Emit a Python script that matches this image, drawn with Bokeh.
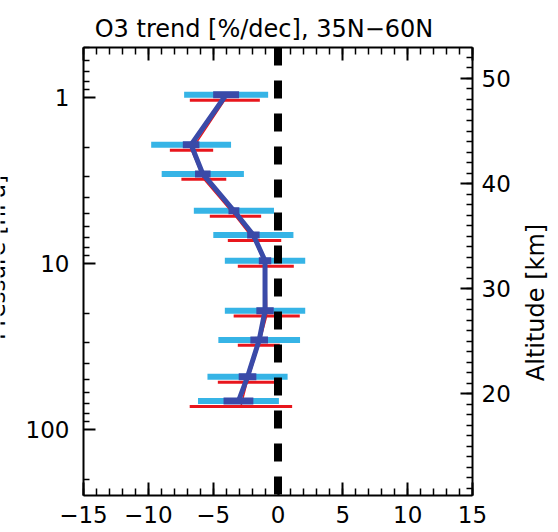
import math
from bokeh.plotting import figure
from bokeh.models import (Range1d, LinearAxis, FixedTicker, Label, LinearScale,
                          ColumnDataSource, BasicTickFormatter)
from bokeh.embed import file_html
from bokeh.resources import INLINE

# ---------------- data ----------------
pressure = [1, 2, 3, 5, 7, 10, 20, 30, 50, 70]          # hPa
blue_trend = [-4.0, -6.7, -5.8, -3.4, -1.9, -1.0, -1.0, -1.45, -2.35, -3.05]
blue_err = [3.24, 3.08, 3.17, 3.09, 3.09, 3.10, 3.10, 3.15, 3.09, 3.12]
blue_se = [1.00, 0.64, 0.60, 0.42, 0.48, 0.48, 0.67, 0.68, 0.68, 1.15]
red_trend = [-4.1, -6.67, -5.72, -3.28, -1.81, -0.94, -0.87, -1.48, -2.38, -2.86]
red_err = [2.70, 1.67, 1.73, 1.98, 2.06, 2.16, 2.55, 1.62, 2.26, 3.95]

x_ticks = [-15, -10, -5, 0, 5, 10, 15]
x_tick_labels = ["\u221215", "\u221210", "\u22125", "0", "5", "10", "15"]
p_ticks = [1, 10, 100]
p_minor = [0.5, 0.6, 0.7, 0.8, 0.9, 2, 3, 4, 5, 6, 7, 8, 9,
           20, 30, 40, 50, 60, 70, 80, 90, 200]
alt_ticks = [20, 30, 40, 50]

title_text = "O3 trend [%/dec], 35N\u221260N"
left_label = "Pressure [hPa]"
right_label = "Altitude [km]"

# ---------------- layout ----------------
W, H = 558, 532
L, R, T, B = 83, 86, 47, 37          # box edges inside the canvas
x0, x1 = -15, 15
p_top, p_bot = 0.5, 250
alt_bot, alt_top = 10.3, 52.95
box_w = W - L - R
box_h = H - T - B
ppx = box_w / (x1 - x0)                      # pixels per x unit
ppd = box_h / math.log10(p_bot / p_top)      # pixels per pressure decade
kpx = (alt_top - alt_bot) / box_h            # km per pixel

# the frame fills the whole canvas; the axes are pinned at the box edges
xs, xe = x0 - L / ppx, x1 + R / ppx
log_top0 = math.log10(p_top) - T / ppd
ps_top, ps_bot = 10 ** log_top0, 10 ** (math.log10(p_bot) + B / ppd)
as_top, as_bot = alt_top + T * kpx, alt_bot - B * kpx

FONT = "DejaVu Sans"
LIGHT = "#36b4e6"
RED = "#e8161c"
DARK = "#3a4aa8"

def px2x(px):
    return xs + px / ppx

def px2p(py):
    return 10 ** (log_top0 + py / ppd)

off = 10 ** (2.7 / ppd)
yb = [pp / off for pp in pressure]
yr = [pp * off for pp in pressure]

src = ColumnDataSource(dict(
    yb=yb, yr=yr, bt=blue_trend, rt=red_trend,
    blo=[c - e for c, e in zip(blue_trend, blue_err)],
    bhi=[c + e for c, e in zip(blue_trend, blue_err)],
    rlo=[c - e for c, e in zip(red_trend, red_err)],
    rhi=[c + e for c, e in zip(red_trend, red_err)],
    bw=[2 * s for s in blue_se],
))

p = figure(width=W, height=H, y_axis_type="log",
           x_range=Range1d(xs, xe), y_range=Range1d(ps_bot, ps_top),
           output_backend="svg", toolbar_location=None, title=None,
           min_border=0, min_border_left=0, min_border_right=0,
           min_border_top=0, min_border_bottom=0)
p.extra_y_ranges = {"alt": Range1d(as_bot, as_top)}
p.extra_y_scales = {"alt": LinearScale()}
p.grid.visible = False
p.outline_line_color = None
p.background_fill_color = "white"
p.border_fill_color = "white"

def style(ax, major=12, minor=6, standoff=10):
    ax.major_tick_in = major
    ax.major_tick_out = 0
    ax.minor_tick_in = minor
    ax.minor_tick_out = 0
    ax.axis_line_width = 2
    ax.axis_line_color = "black"
    ax.major_tick_line_width = 2
    ax.minor_tick_line_width = 1.5
    ax.major_tick_line_color = "black"
    ax.minor_tick_line_color = "black"
    ax.major_label_text_font = FONT
    ax.major_label_text_font_size = "23px"
    ax.major_label_text_color = "black"
    ax.major_label_standoff = standoff

# bottom
xb = p.xaxis[0]
xb.ticker = FixedTicker(ticks=x_ticks, minor_ticks=list(range(x0, x1 + 1)))
xb.major_label_overrides = dict(zip(x_ticks, x_tick_labels))
xb.fixed_location = p_bot
xb.bounds = (x0, x1)
style(xb, 13, 7, 10)

# top (ticks only)
xt = LinearAxis(ticker=FixedTicker(ticks=x_ticks, minor_ticks=list(range(x0, x1 + 1))),
                fixed_location=p_top, bounds=(x0, x1))
style(xt, 13, 7, 0)
xt.major_label_overrides = {t: "" for t in x_ticks}
p.add_layout(xt, "above")

# left (pressure)
yl = p.yaxis[0]
yl.ticker = FixedTicker(ticks=p_ticks, minor_ticks=p_minor)
yl.formatter = BasicTickFormatter()
yl.fixed_location = x0
yl.bounds = (p_top, p_bot)
style(yl, 12, 6, 14)

# right (altitude)
yra = LinearAxis(y_range_name="alt",
                 ticker=FixedTicker(ticks=alt_ticks, minor_ticks=list(range(11, 53))),
                 fixed_location=x1, bounds=(alt_bot, alt_top))
style(yra, 12, 6, 9)
p.add_layout(yra, "right")

# ---------------- glyphs ----------------
p.segment(x0="blo", y0="yb", x1="bhi", y1="yb", source=src,
          line_color=LIGHT, line_width=6)
p.segment(x0="rlo", y0="yr", x1="rhi", y1="yr", source=src,
          line_color=RED, line_width=3)
p.line(x=[0, 0], y=[p_top, p_bot], line_color="black", line_width=8,
       line_dash="18 15")
p.line(x="rt", y="yr", source=src, line_color=RED, line_width=1.5)
p.line(x="bt", y="yb", source=src, line_color=DARK, line_width=5)
p.rect(x="bt", y="yb", width="bw", height=7, height_units="screen",
       source=src, fill_color=DARK, line_color=None)

# ---------------- texts ----------------
p.add_layout(Label(x=px2x(263.5), y=px2p(28), text=title_text,
                   text_align="center", text_baseline="alphabetic",
                   text_font=FONT, text_font_size="24px", text_color="black"))
p.add_layout(Label(x=px2x(-4), y=px2p(257), text=left_label, angle=math.pi / 2,
                   text_align="center", text_baseline="alphabetic",
                   text_font=FONT, text_font_size="23px", text_color="black"))
p.add_layout(Label(x=px2x(535), y=px2p(302), text=right_label, angle=math.pi / 2,
                   text_align="center", text_baseline="alphabetic",
                   text_font=FONT, text_font_size="24px", text_color="black"))

open("out.html", "w").write(file_html(p, INLINE))
